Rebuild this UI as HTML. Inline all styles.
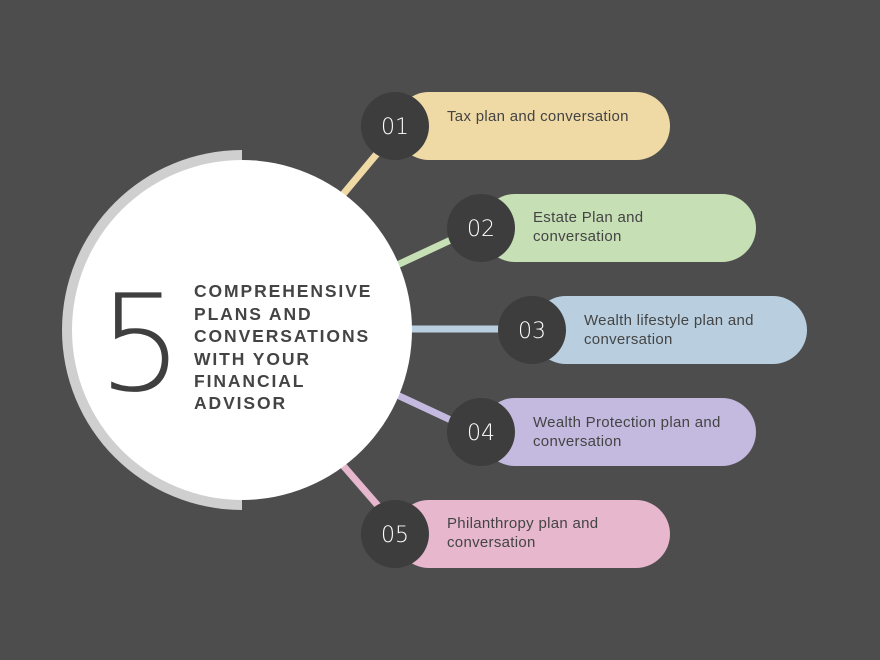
<!DOCTYPE html>
<html><head><style>
html,body{margin:0;padding:0;background:#4d4d4d;}
svg{display:block}
</style></head><body>
<svg width="880" height="660" viewBox="0 0 880 660" xmlns="http://www.w3.org/2000/svg" font-family="Liberation Sans, sans-serif">
<rect width="880" height="660" fill="#4d4d4d"/>
<g stroke-width="7" stroke-linecap="butt">
<line x1="340" y1="198" x2="380" y2="150" stroke="#efd9a5"/>
<line x1="395" y1="266" x2="455" y2="238" stroke="#c6dfb5"/>
<line x1="405" y1="329" x2="505" y2="329" stroke="#b9cfe0"/>
<line x1="395" y1="394" x2="455" y2="422" stroke="#c4badf"/>
<line x1="340" y1="462" x2="380" y2="508" stroke="#e6b7cd"/>
</g>
<path d="M242 150 A180 180 0 0 0 242 510 Z" fill="#cfcfcf"/>
<circle cx="242" cy="330" r="170" fill="#ffffff"/>
<text x="98" y="390" font-size="134" fill="#3f3f3f" font-family="DejaVu Sans, sans-serif" style="font-weight:200">5</text>
<g font-size="17.5" font-weight="bold" fill="#444" letter-spacing="1.9">
<text x="194" y="297">COMPREHENSIVE</text>
<text x="194" y="320">PLANS AND</text>
<text x="194" y="342">CONVERSATIONS</text>
<text x="194" y="365">WITH YOUR</text>
<text x="194" y="387">FINANCIAL</text>
<text x="194" y="409">ADVISOR</text>
</g>
<rect x="395" y="92" width="275" height="68" rx="34" fill="#efd9a5"/>
<rect x="481" y="194" width="275" height="68" rx="34" fill="#c6dfb5"/>
<rect x="532" y="296" width="275" height="68" rx="34" fill="#b9cfe0"/>
<rect x="481" y="398" width="275" height="68" rx="34" fill="#c4badf"/>
<rect x="395" y="500" width="275" height="68" rx="34" fill="#e6b7cd"/>
<g fill="#3d3d3d">
<circle cx="395" cy="126" r="34"/>
<circle cx="481" cy="228" r="34"/>
<circle cx="532" cy="330" r="34"/>
<circle cx="481" cy="432" r="34"/>
<circle cx="395" cy="534" r="34"/>
</g>
<g fill="#ffffff" font-size="22" text-anchor="middle" font-family="DejaVu Sans, sans-serif" style="font-weight:300">
<text x="395" y="134">01</text>
<text x="481" y="236">02</text>
<text x="532" y="338">03</text>
<text x="481" y="440">04</text>
<text x="395" y="542">05</text>
</g>
<g fill="#444" font-size="15" letter-spacing="0.3">
<text x="447" y="121">Tax plan and conversation</text>
<text x="533" y="222">Estate Plan and</text>
<text x="533" y="241">conversation</text>
<text x="584" y="325">Wealth lifestyle plan and</text>
<text x="584" y="344">conversation</text>
<text x="533" y="427">Wealth Protection plan and</text>
<text x="533" y="446">conversation</text>
<text x="447" y="528">Philanthropy plan and</text>
<text x="447" y="547">conversation</text>
</g>
</svg>
</body></html>
